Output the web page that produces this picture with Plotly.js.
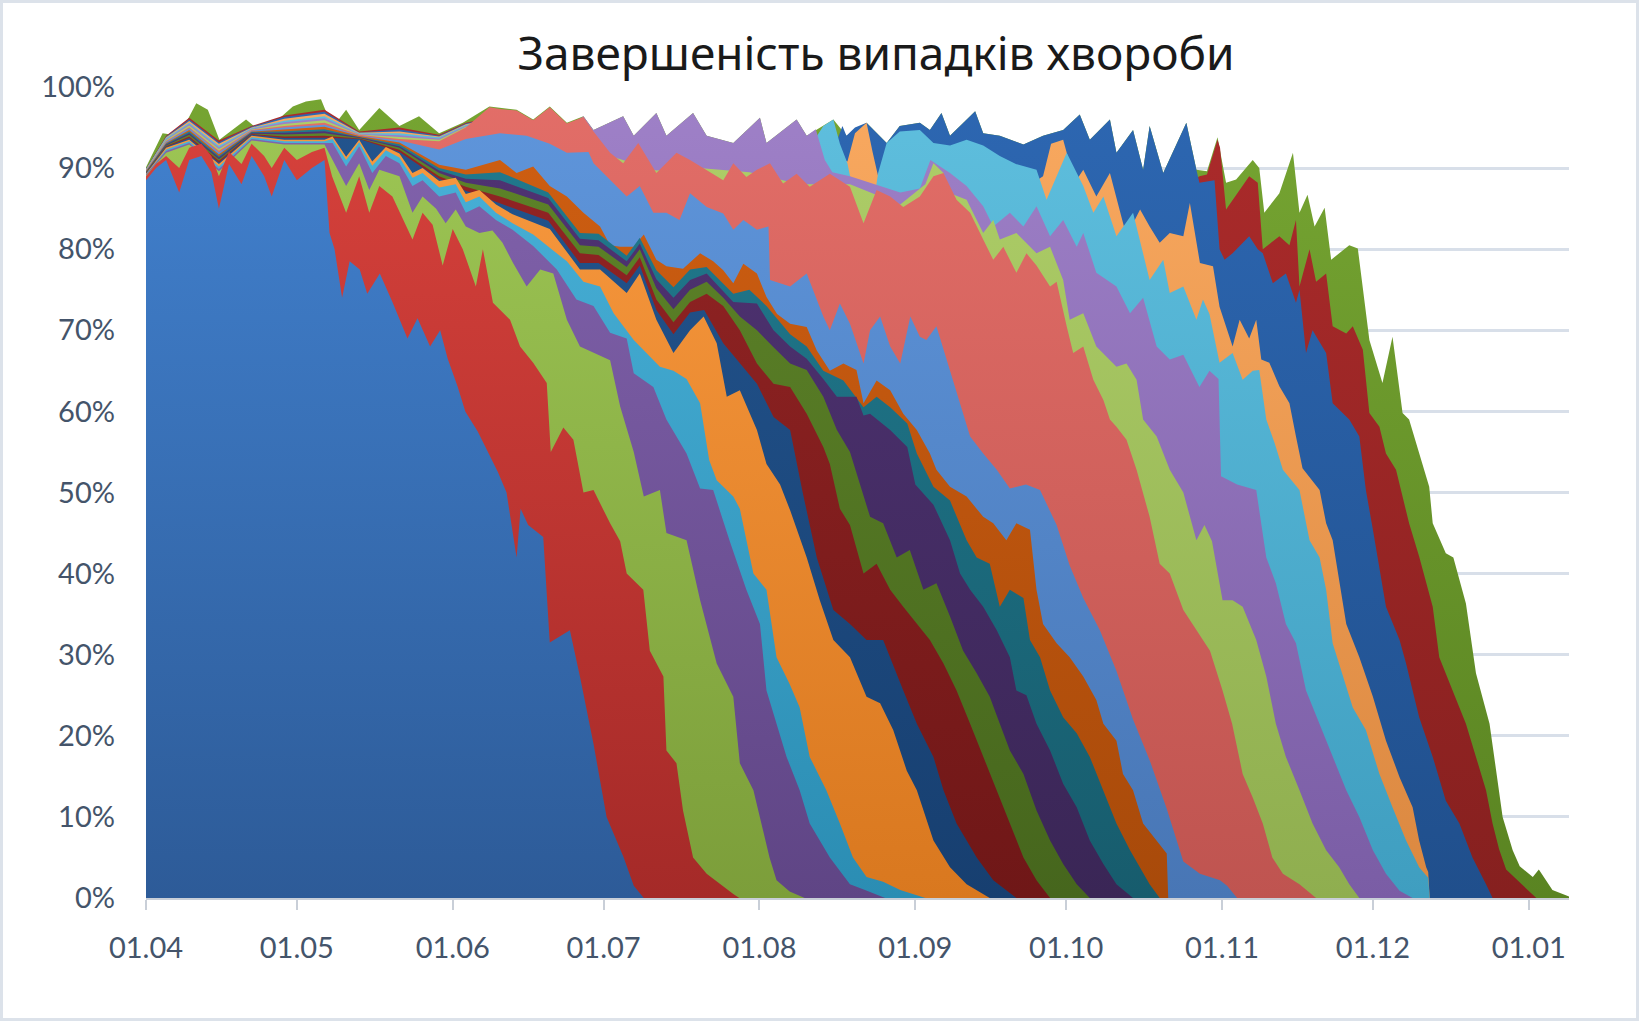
<!DOCTYPE html>
<html><head><meta charset="utf-8">
<script src="https://cdn.plot.ly/plotly-3.0.1.min.js"></script>
<style>
html,body{margin:0;padding:0;background:#fff;overflow:hidden}
#wrap{position:relative;width:1639px;height:1021px}
#chart{width:1639px;height:1021px}
#frame{position:absolute;left:0;top:0;width:1639px;height:1021px;box-sizing:border-box;border:3px solid #DCE2EA;pointer-events:none}
</style></head><body>
<div id="wrap"><div id="chart"></div><div id="frame"></div></div>
<script>
// x = days since 01.04 ; y = cumulative share (%) at the top of each band, bottom band first
const monthTickDays = [0,30,61,91,122,153,183,214,244,275];
const monthTickLabels = ['01.04','01.05','01.06','01.07','01.08','01.09','01.10','01.11','01.12','01.01'];
const pctTickVals = [0,10,20,30,40,50,60,70,80,90,100];
const pctTickLabels = ['0%','10%','20%','30%','40%','50%','60%','70%','80%','90%','100%'];

const S01 = [[0,88.5],[2,90],[4,91],[6.6,87],[8.6,91],[11,91.5],[13,89.5],[14.5,85],[16.5,90.5],[19,88],[21,91.5],[23.5,89],[25,86.5],[27.5,91],[30,88.5],[33,90],[35.5,91],[36.5,82],[37.5,80],[39,74],[40.5,78.5],[42.5,77.5],[44,74.5],[46.5,77],[49,73.5],[52,69],[54,71.5],[56.5,68],[58.5,70],[60,66.5],[62,63],[63.5,60],[66,57.5],[68,55],[70,52.5],[71.7,50],[73.7,42],[74.5,48],[76,46],[79,44.5],[80.3,31.5],[84.3,33],[86.3,27.3],[89,19],[91.6,10],[95,5],[97,1.5],[99,0]];
const S02 = [[0,89],[2,90.5],[4,91.5],[6.6,90],[8.6,92.5],[11,93],[13,91.5],[14.5,89],[16.5,92],[19,90.5],[21,93],[23.5,91.5],[25,90],[27.5,92.5],[30,91],[33,92],[35.5,92.5],[37,89],[39.8,84.5],[42.4,89],[44.4,84.5],[46.4,87.8],[49,86.5],[53,81.2],[55,84.5],[57,83],[59,78],[61,82.5],[63,80],[65.6,75.4],[67,80],[69,73.4],[72.4,71.3],[74.4,68],[77,66],[79.7,63.5],[80.5,55],[83,58],[85,56.5],[87,50],[89,50.3],[92.3,46.2],[94.3,44],[95.6,40],[98.9,38],[100.2,30.5],[102.9,27.3],[103.5,18.2],[105.5,16.6],[106.8,10.8],[108.8,5],[111.5,3],[116.8,0.5],[118,0]];
const S03 = [[0,89.1],[4,91.9],[8.6,92.9],[14.5,89.6],[21,93.4],[27.5,92.9],[35.5,92.9],[37.1,91],[39.8,87.8],[42.4,90.6],[44.4,87.3],[46.4,89.8],[50.4,89],[53,84.5],[55,86.5],[57.7,85],[59.6,83.2],[61.6,84.9],[63.6,82.8],[66.3,82],[68.9,82.3],[70.9,80.8],[73,78.3],[75.7,75.4],[78.4,77.5],[81,77],[83.7,71.3],[86.3,68],[89,67.2],[92.3,66.3],[94.3,60.6],[97,55],[99,49.5],[102.2,50.3],[103.5,45],[107.5,44.1],[110.2,36.7],[113.5,28.9],[116.8,24.8],[118.1,16.6],[120.8,13.3],[122.8,8],[124,5],[125.4,2.2],[128,0.8],[131,0]];
const S04 = [[0,89.2],[4,92.1],[8.6,93.1],[14.5,89.9],[21,93.6],[27.5,93.1],[35.5,93.1],[37.1,93.1],[39.8,90.2],[42.4,92.7],[45,89.4],[47.7,91.5],[50.4,90.6],[53,87.8],[55,88.5],[58.3,86.5],[61.6,87],[63.6,84.5],[66.3,85.3],[69.6,83.6],[72.9,82.4],[77,80.4],[81.7,77.5],[85.6,73.8],[89,73],[92.3,69.7],[95.6,69],[97,64.7],[100.9,63],[103.5,59],[107.5,54.8],[110.2,50.5],[112.8,50.3],[116.1,44],[119.4,38],[122.1,33.8],[123.4,25.6],[125.4,21.5],[127.4,17.4],[130,13.3],[132,9.2],[136,5],[140,1.7],[143,1],[147,0]];
const S05 = [[0,89.25],[4,92.3],[8.6,93.3],[14.5,90.2],[21,93.8],[27.5,93.3],[35.5,93.3],[37.1,93.6],[39.8,91],[42.4,93.2],[45,90.3],[47.7,92.2],[50.4,91.3],[53,88.8],[55,89.4],[58.3,87.6],[61.6,88],[63.6,85.8],[66.3,86.5],[69.6,84.5],[72.9,83.2],[77,81.8],[83.7,78.5],[87,76],[90.3,75.4],[93,72.1],[97,68.8],[102.2,65.5],[104.9,65],[107.5,64],[110.2,61],[112,54],[113.5,51.5],[116.8,49.5],[118.1,48],[120.8,40],[123.4,38],[125.4,29.7],[128,26.4],[130,23.5],[132,17.4],[135.3,13.3],[138,9.2],[140.6,5],[143.3,2.6],[146.6,2],[150,1],[155,0]];
const S06 = [[0,89.3],[4,92.5],[8.6,93.5],[14.5,90.5],[21,94],[27.5,93.5],[35.5,93.5],[37.1,93.9],[39.8,91.4],[42.4,93.5],[45,90.8],[47.7,92.6],[50.4,91.8],[53,89.4],[55,90],[58.3,88.4],[61.6,88.8],[63.6,86.8],[66.3,87.3],[69.6,85.5],[72.9,84.3],[80.3,82.5],[86.3,77.5],[90.3,77.5],[95.6,74.6],[98.2,77],[101.5,71.3],[104.9,67.2],[108.2,70],[110.9,71.7],[113.5,68.4],[115.5,61.8],[118.1,62.6],[121.5,57.7],[123.4,53.5],[126.1,51],[128.1,47.8],[131.4,42],[134,36.7],[136.7,31.8],[140,29.7],[143.3,24.8],[146,24],[148.6,20.7],[151.3,15.7],[153.3,13.3],[156.6,7.1],[159.9,3.8],[163.2,1.7],[167.8,0]];
const S07 = [[0,89.35],[4,92.6],[8.6,93.7],[14.5,90.7],[21,94.1],[27.5,93.7],[35.5,93.75],[42.4,93.6],[50.4,92],[58.3,88.7],[63.6,87.2],[70.4,85.7],[80,83.5],[86.3,78.3],[90,78.3],[95.6,75.8],[98.2,78],[101.5,72.5],[104.9,69.5],[108.2,72.2],[111,72.5],[114.8,68.4],[118.1,65.9],[121.5,63.4],[124.8,59.3],[128.1,57.7],[130.6,50],[133.4,42],[136.7,35.5],[140,33.8],[143.3,31.8],[146.6,31.8],[150.6,25.6],[153.3,21.5],[156.6,17.4],[158.6,13.3],[161.2,9.2],[165.2,5],[168.5,2.2],[173.1,0]];
const S08 = [[0,89.4],[4,92.7],[8.6,93.9],[14.5,90.9],[21,94.2],[27.5,93.9],[35.5,94],[42.4,93.65],[50.4,92.25],[58.3,89],[63.6,87.7],[70.4,86.5],[80,84.5],[86.3,79.5],[90,79.3],[95.6,76.8],[98.2,79],[101.5,73.8],[104.9,71],[108.2,73.5],[111.5,74.5],[114.8,73],[118.1,70],[121.5,65.9],[124.8,63.4],[128.1,63],[131.4,59.7],[134.7,55.6],[136,53.5],[138,48],[140,46],[142.7,40],[145.3,41.2],[148,38],[150.6,35.9],[153.3,33.8],[155.9,31.8],[158.6,28.9],[161.2,25.6],[163.9,21.5],[166.5,17.4],[169.2,13.3],[171.8,9.2],[174.5,5],[177.1,2.2],[179.8,0]];
const S09 = [[0,89.45],[4,92.8],[8.6,94.1],[14.5,91.1],[21,94.25],[27.5,94.15],[35.5,94.3],[42.4,93.7],[50.4,92.5],[58.3,89.4],[63.6,88.2],[70.4,87.5],[80,85.5],[86.3,80.5],[90,80.3],[95.6,77.8],[98.2,80],[101.5,75.2],[104.9,72.6],[108.2,75],[111.5,76],[114.8,74],[118.1,71.7],[121.5,70],[124.8,67.9],[128.1,65.9],[131.4,65.1],[134.7,61.8],[137.4,57.7],[140,55],[144,47],[146.6,46.2],[149.3,42],[151.9,42.9],[154.6,38],[157.2,38.8],[159.9,34.7],[162.5,30.5],[165.2,27.7],[167.8,24.8],[169.8,21.5],[171.8,18.2],[174.5,15.3],[177.1,10.8],[179.8,7.1],[182.4,4.2],[185.1,1.7],[187.7,0]];
const S10 = [[0,89.5],[4,92.9],[8.6,94.3],[14.5,91.3],[21,94.35],[27.5,94.35],[35.5,94.55],[42.4,93.8],[50.4,92.7],[58.3,89.7],[63.6,88.7],[70.4,88.5],[80,86.3],[86.3,81.3],[90,81.1],[95.6,78.5],[98.2,80.7],[101.5,76.3],[104.9,74],[108.2,76.2],[111.5,77],[116.8,73.5],[121.5,73.3],[124.8,70],[128.1,68],[131.4,66.5],[134.7,64],[137.4,61.8],[141.3,61.8],[142.7,59.5],[144,59.7],[148,57.7],[151.4,55.6],[153,51],[156.6,48.5],[159.9,44.1],[161.9,40],[163.9,38],[166.5,35.9],[169.2,33],[171.8,29.7],[173.1,25.6],[175.1,25],[177.1,21.5],[179.8,18.2],[182.4,14.1],[185.1,11.2],[187.7,7.1],[190.4,4.2],[193,1.7],[196.3,0]];
const S11 = [[0,89.55],[4,93],[8.6,94.5],[14.5,91.5],[21,94.45],[27.5,94.55],[35.5,94.8],[42.4,93.85],[50.4,92.95],[58.3,90],[63.6,89.2],[70.4,89.5],[80,87],[86.3,82],[90,81.9],[95.6,79.2],[98.2,81.4],[101.5,77.4],[104.9,75.3],[108.2,77.5],[111.5,77.8],[116.8,74.5],[120,75],[123.4,73],[128.1,69.5],[131.4,68],[134.7,65],[138.7,63.8],[142.7,60.5],[145.3,61.8],[148,60.5],[151.4,58.5],[153.3,54.8],[156.6,50.7],[159.9,49],[163.2,44.1],[165.2,42],[167.8,41.2],[169.8,35.9],[171.8,38],[174.5,37],[175.8,31.8],[177.8,29.7],[179.8,25.6],[182.4,22.3],[185.1,20.3],[187.7,17.4],[190.4,13.3],[193,9.2],[195.7,5.9],[198.3,3],[199.6,1.7],[201.6,0]];
const S12 = [[0,89.6],[4,93.1],[8.6,94.7],[14.5,91.7],[21,94.5],[27.5,94.8],[35.5,95.1],[42.4,93.95],[50.4,93.15],[58.3,90.4],[63.6,89.8],[70.4,91],[73.7,89.4],[77,90.2],[80.3,87.8],[83.7,86.5],[87,84.5],[90.3,82.8],[92.3,80.5],[94.3,80.3],[97,80.3],[99,81.8],[101.5,78.7],[103.5,77.9],[106.8,77.6],[110.2,79.5],[112.8,78.5],[114.8,77.4],[116.8,75.8],[118.8,78.2],[121.5,77],[123.4,74.1],[125.5,72],[128.1,70.8],[131.4,70.4],[133.4,67.5],[136,65],[138.7,65.9],[141.3,65.1],[142.7,61],[145.3,63.8],[148,62.6],[150.6,59.7],[153.3,57.7],[155.9,54.8],[157.2,52.8],[159.9,50.7],[163.2,49.5],[166.5,47],[168.5,46.2],[171.1,44.1],[173.1,46.2],[175.8,45.4],[177.1,38],[178.4,33.8],[181.1,31.4],[183.7,29.7],[186.4,27.3],[189,24.4],[190.4,21.5],[193,19.4],[194.3,15.3],[196.3,13.3],[198.3,9.2],[201,7.1],[203,5.5],[203.3,0]];
const S13 = [[0,89.65],[4,93.25],[8.6,94.9],[14.5,91.95],[21,94.6],[27.5,95],[35.5,95.35],[42.4,94],[50.4,93.4],[58.3,92.3],[63.6,93.6],[70.4,94.3],[75.7,94],[80.3,93],[83.7,91.9],[88,92],[89,90.6],[92.3,88.6],[95.6,86.5],[98.2,87.8],[100.9,84.5],[103.5,84.5],[106.1,83.6],[108.2,86.9],[111.5,85.2],[114.8,84.4],[116.8,82.4],[118.8,83.6],[121.5,82.4],[123.8,82.8],[124.1,76.2],[128.1,75.4],[131.4,77],[134.7,71.7],[136,70],[138,73.3],[140,70.8],[142.7,65.9],[144,70],[146,71.7],[148,68],[150,65.9],[152,71.7],[153.9,69.2],[155.2,68.8],[157.2,70.5],[159.9,65.1],[161.9,61],[163.9,56.9],[166.5,54.8],[169.2,52.8],[171.8,50.5],[175,51],[177.8,50.3],[181.1,46],[183.7,41],[186.4,37],[189.7,33],[193,28],[196.3,22],[199.6,17],[203,11],[206.3,4.5],[209.6,3],[213.6,2.2],[215,1.5],[217,0]];
const S14 = [[0,89.7],[4,93.35],[8.6,95.05],[14.5,92.15],[21,94.7],[27.5,95.2],[35.5,95.6],[42.4,94.1],[50.4,93.6],[58.3,93.3],[63.6,95],[68.3,97.5],[70.4,97.3],[73.7,97.1],[77,95.9],[80.3,97.5],[83.7,95.5],[87,96.3],[89,94.5],[92.3,91.9],[94.9,90.6],[97.9,93.1],[101.5,89.4],[105.5,91.9],[108.2,91],[111.5,89.8],[114.8,88.5],[116.8,90.6],[119.4,88.9],[121.5,89.8],[124.1,90.6],[126.7,88.1],[129.4,89.3],[132,87.7],[136,89.3],[140,87.7],[141.3,85.6],[142.7,83.2],[145.3,87.3],[148,86.5],[150.6,85.2],[153.9,86.5],[156.6,89],[158.6,89.4],[161.2,86.1],[163.9,84.5],[166.5,81.2],[168.5,78.7],[170.5,80.3],[173.1,77.1],[175.1,79.5],[177.1,78],[179.8,75.4],[181.1,76],[183.1,70.5],[184.4,67.2],[186.4,68],[188.4,63.9],[190.4,61.4],[191.7,59],[193,58.1],[195,56.5],[197,52.8],[199.6,47],[201.6,41.2],[203.6,40],[206.3,35.5],[209,33],[211.6,30.5],[214.1,25.6],[216,21.5],[218.1,15.3],[220.1,12.4],[222.1,9.2],[224,5],[226.1,3],[229.4,1.7],[232.7,0]];
const S15 = [[0,89.75],[4,93.45],[8.6,95.25],[14.5,92.35],[21,94.75],[27.5,95.45],[35.5,95.9],[42.4,94.15],[50.4,93.85],[58.3,93.5],[63.6,95.1],[70.4,96],[83.7,94.2],[92.3,91.5],[101.5,89.7],[110,90],[120,89.5],[130,88],[140,88],[150,85.5],[155,88],[156.6,90.6],[158.6,89.4],[159.9,86.9],[163.2,86.1],[166.5,82],[168.5,83.6],[169.8,81.2],[173.1,82],[177.1,79.5],[179.8,80.3],[182.4,76.2],[183.7,71.3],[186.4,72.1],[189,68],[193,65.5],[195,65.9],[197,63.9],[198.3,59],[201,56.9],[203.6,52.8],[206.3,50],[208.9,44.1],[210.5,46],[212,44],[214.1,36.7],[216.1,36.7],[218.1,35.9],[220.8,31.8],[222.8,27.3],[224.7,21.5],[226.7,17.4],[229.4,13.3],[232,9.2],[234.7,5.9],[237.3,3.8],[239.3,1.7],[241.3,0]];
const S16 = [[0,89.8],[4,93.55],[8.6,95.45],[14.5,92.55],[21,94.85],[27.5,95.65],[35.5,96.15],[42.4,94.2],[50.4,94.05],[58.3,93.65],[63.6,95.2],[70.4,96.1],[73.7,95.5],[77,94.8],[80.3,95],[83.7,94.9],[87,96.4],[89,94.7],[94.9,96.4],[97,94],[101.5,96.8],[103.5,94],[108.8,96.8],[111.5,94],[116.8,93.1],[122.1,96.2],[123.4,93.1],[126.7,94.7],[129.4,96],[131.4,94],[133.2,94.8],[135,91],[136.5,89.5],[140,89],[145,88],[150,87],[153.9,87.5],[156,91],[159.9,89.4],[163.2,87.8],[166.5,85.3],[168.5,82.8],[171.8,84.5],[174.5,82.8],[177.1,85.3],[179.8,81.6],[182.4,83.6],[185.1,80.3],[186.4,82],[189,77.1],[193,75.4],[195.7,72.1],[198.3,74],[201,68],[203.6,66.4],[206.3,67],[209.5,63],[211.5,65],[213.3,64],[213.8,52],[217,51],[220.8,50.3],[222.8,42],[224.7,38.8],[226.7,33.8],[228.7,31.4],[230.7,25.6],[233.4,21.5],[236,17.4],[238.7,13.3],[241.3,10],[244,5.9],[246.6,3],[249.3,0.9],[251.9,0]];
const S17 = [[0,89.85],[4,93.7],[8.6,95.6],[14.5,92.75],[21,94.95],[27.5,95.85],[35.5,96.4],[42.4,94.3],[50.4,94.3],[58.3,93.8],[63.6,95.3],[70.4,96.2],[83.7,95],[87,92],[131.4,92],[134.7,95.2],[136.7,96],[138,93],[139.5,90.6],[141,86],[142,84.5],[144,82.8],[145.6,89.4],[147.3,93.1],[149.9,94.5],[153.9,94.7],[156.6,93.1],[159.9,92.8],[163.2,93.5],[166.5,92.8],[169.8,91.5],[173,90.5],[177.1,89.8],[179.1,86.1],[181.1,89],[183.1,91.9],[186.4,87.8],[188.4,84.5],[190.4,86.5],[193,81.6],[196.3,84.5],[199.6,76.2],[202.3,78.7],[203.6,74.6],[206.3,75.4],[208.9,71.3],[210.2,73.8],[211.5,72],[213.5,66],[216.1,67.2],[218.1,63.9],[220.1,65],[221.4,65.1],[222.8,59],[224.5,56],[226.1,52.8],[229.4,50.3],[231.4,44.1],[233.4,42],[234.7,38],[236,31.4],[238,27.3],[240,23.5],[242.6,20.7],[245.3,15.3],[247.9,11.2],[250.6,7.1],[253.2,3.8],[255,2.5],[255.3,0]];
const S18 = [[0,89.85],[4,93.8],[8.6,95.8],[14.5,93],[21,95],[27.5,96.1],[35.5,96.7],[42.4,94.35],[50.4,94.5],[58.3,93.9],[63.6,95.4],[70.4,96.3],[83.7,95.1],[87,91.5],[137,91.5],[139.5,90.8],[141,94.3],[143.3,95.6],[144.5,92],[145.6,89],[147,89],[176,88],[178.4,89],[180,93],[182.4,93.5],[183.5,91],[184.5,88],[186.4,89.8],[189,86.5],[191.7,89.4],[195,81.6],[197.7,84.9],[199.6,82.8],[201.6,80.8],[203.6,82],[206.3,81.6],[207.6,85.7],[209.6,78.3],[212.2,77.9],[213.5,72.9],[216.1,68],[217.5,71.3],[219.4,69],[220.8,71.3],[221.8,66.4],[223.4,66],[225.4,63.1],[227.4,61],[228.7,56.9],[230,53],[233.4,50.3],[234.7,46.2],[236,44.1],[238.7,33.8],[241.3,29.7],[244,24.8],[246.6,19.4],[249.3,14.9],[251.9,11.2],[253.2,7.1],[254.6,3.8],[255,3.2],[255.3,0]];
const S19 = [[0,89.9],[4,93.9],[8.6,96],[14.5,93.2],[21,95.1],[27.5,96.3],[35.5,96.95],[42.4,94.4],[50.4,94.75],[58.3,94],[63.6,95.5],[70.4,96.4],[83.7,95.2],[87,91],[136,91],[137.5,93.5],[138.5,95.2],[139.3,94],[141,95],[143.3,95.6],[147.3,93.1],[149.9,95.2],[153.9,95.6],[155.9,94.7],[158.2,96.8],[159.9,94],[164.9,97],[166.5,94.3],[169.8,94],[174.5,92.9],[178.4,94],[182.4,94.7],[185.7,96.6],[187.7,93.5],[191.7,96],[193,91.9],[196.3,94.7],[198.3,89.8],[199.6,95.2],[202.3,89.4],[206.9,95.6],[208.9,89.8],[209.5,88.2],[212.5,88.5],[213.5,80],[214.5,78.7],[216.1,79.5],[219.4,81.6],[221.1,80],[222.1,79.5],[224.1,75.8],[226.7,77],[228.7,73.4],[229.4,75],[230.7,67.2],[232,70],[234.7,67.2],[236,61],[239.3,59],[241.3,56.9],[242.6,50.3],[244,45.4],[246.6,35.9],[249.3,31.8],[250.6,28.9],[251.9,25.6],[253.2,22.3],[255.9,17.4],[258.5,12],[261.2,9.2],[263.8,5],[266.5,1.7],[267.8,0]];
const S20 = [[0,89.9],[4,94],[8.6,96.2],[14.5,93.4],[21,95.2],[27.5,96.5],[35.5,97.2],[42.4,94.5],[50.4,95],[58.3,94.1],[63.6,95.6],[70.4,96.5],[83.7,95.3],[87,90],[207,88],[209.5,89],[211,89.2],[213.1,93.5],[213.6,92.5],[214.8,84.9],[219.4,89],[221.1,88.2],[222.1,80],[225.4,81.6],[227.4,80.5],[228.7,83.6],[229.4,75.4],[231.4,80],[232.7,76],[234.7,77],[236,70.5],[238.7,69.6],[240,70.5],[242,67.6],[243.3,59.8],[245.3,58.1],[246.6,54.8],[248.6,52.8],[249.9,49.5],[251.2,46.2],[253.2,42.1],[255.9,35.9],[257.2,29.7],[259.9,25.6],[262.5,21.5],[264.5,17.4],[266.5,13.3],[267.8,9.2],[269.1,6],[270.5,3.5],[273,2],[275.8,0.3],[276.5,0]];
const S21 = [[0,90.1],[3.3,94.3],[6.6,94],[10,98],[12.3,97.2],[14.6,93.5],[19.9,96],[23.2,94.3],[29.2,97.6],[31.8,98.2],[34.8,98.5],[37.1,95],[39.8,97.2],[42.4,94.7],[46.4,97.4],[50.4,95.2],[54.3,96.4],[58.3,94.3],[63,95.6],[68.3,97.6],[73.7,97.2],[77,96],[80.3,97.6],[83.7,95.6],[87,96.4],[89,94.7],[94.9,96.4],[97,94],[101.5,96.8],[103.5,94],[108.8,96.8],[111.5,94],[116.8,93.1],[122.1,96.2],[123.4,93.1],[126.7,94.7],[129.4,96],[131.4,94],[136.7,96],[139.3,94],[143.3,95.6],[147.3,93.1],[149.9,95.2],[153.9,95.6],[155.9,94.7],[158.2,96.8],[159.9,94],[164.9,97],[166.5,94.3],[169.8,94],[174.5,92.9],[178.4,94],[182.4,94.7],[185.7,96.6],[187.7,93.5],[191.7,96],[193,91.9],[196.3,94.7],[198.3,89.8],[199.6,95.2],[202.3,89.4],[206.9,95.6],[208.9,89.8],[211,89.6],[213.1,93.8],[214.8,88.2],[216.8,88.6],[220.1,91],[221.4,90],[222.4,84.5],[225.4,86.9],[228.1,91.9],[229.4,84.5],[231,86.7],[232.4,82.8],[234.4,85.1],[235.7,78.7],[239.3,80.5],[241,80.1],[243.3,68.8],[245.9,63.5],[247.9,69.2],[249.9,59.8],[251.2,59],[253.2,54.8],[255.2,50.7],[255.9,46.2],[258.5,42.5],[260,42],[262.5,36.3],[264.5,27.7],[267.2,21.5],[269.8,10],[271.8,5.9],[273.2,3.9],[275.8,2.6],[277,3.5],[279.7,1],[282.5,0.3],[283,0.2]];

const seriesList = [S01,S02,S03,S04,S05,S06,S07,S08,S09,S10,S11,S12,S13,S14,S15,S16,S17,S18,S19,S20,S21];
// [bottom (dark), top (light)] colour of each band's gradient
const seriesColors = [
  ['#2D5B98','#4282D0'],['#A52A28','#D8423C'],['#7C9E3A','#9EC755'],['#5F4585','#8364AE'],
  ['#2B8DB3','#4AB2D9'],['#D9781F','#F99A40'],['#173F70','#23558F'],['#6F1717','#952525'],
  ['#46661D','#5F8529'],['#3A2656','#513475'],['#175C6D','#217B8F'],['#A84A0A','#D05F12'],
  ['#4876B5','#5F96DC'],['#BF5450','#E36E68'],['#8FAE4F','#AFCF69'],['#7A5DA5','#9F81C8'],
  ['#3F9EC0','#5FBFDE'],['#DB8840','#F9A960'],['#204F8C','#2D67B2'],['#86201F','#AC2B2B'],
  ['#5A8422','#76A532']
];

const traces = [];
for (let i = seriesList.length - 1; i >= 0; i--) {
  const pts = seriesList[i];
  const c = seriesColors[i];
  traces.push({
    type: 'scatter', mode: 'lines',
    x: pts.map(p => p[0]), y: pts.map(p => p[1]),
    fill: 'tozeroy', fillcolor: c[1],
    fillgradient: {type: 'vertical', colorscale: [[0, c[0]], [1, c[1]]], start: 0, stop: 100},
    line: {width: 0, color: c[1]},
    hoverinfo: 'skip', showlegend: false
  });
}

const tickFont = {family: 'Lato, "Open Sans", sans-serif', size: 29, color: '#44546A'};
const layout = {
  width: 1639, height: 1021,
  margin: {l: 146, r: 70, t: 87, b: 123, pad: 0},
  paper_bgcolor: '#ffffff', plot_bgcolor: '#ffffff',
  showlegend: false,
  title: {
    text: 'Завершеність випадків хвороби',
    font: {family: '"Noto Sans", "Open Sans", sans-serif', size: 46, color: '#1a1a1a'},
    x: 0.513, xref: 'paper', xanchor: 'center',
    y: 0.947, yref: 'container', yanchor: 'middle'
  },
  xaxis: {
    range: [0, 283], tickmode: 'array', tickvals: monthTickDays, ticktext: monthTickLabels,
    ticks: 'outside', ticklen: 10, tickwidth: 2, tickcolor: '#C9CFD8',
    showline: true, linecolor: '#C9CFD8', linewidth: 2,
    showgrid: false, zeroline: false, tickfont: tickFont, ticklabelstandoff: 13, fixedrange: true
  },
  yaxis: {
    range: [0, 100], tickmode: 'array', tickvals: pctTickVals, ticktext: pctTickLabels,
    showgrid: true, gridcolor: '#D8DFE9', gridwidth: 3, zeroline: false, showline: false,
    ticks: '', tickfont: tickFont, ticklabelstandoff: 30, fixedrange: true
  }
};
Plotly.newPlot('chart', traces, layout, {staticPlot: true, displayModeBar: false});
</script>
</body></html>
